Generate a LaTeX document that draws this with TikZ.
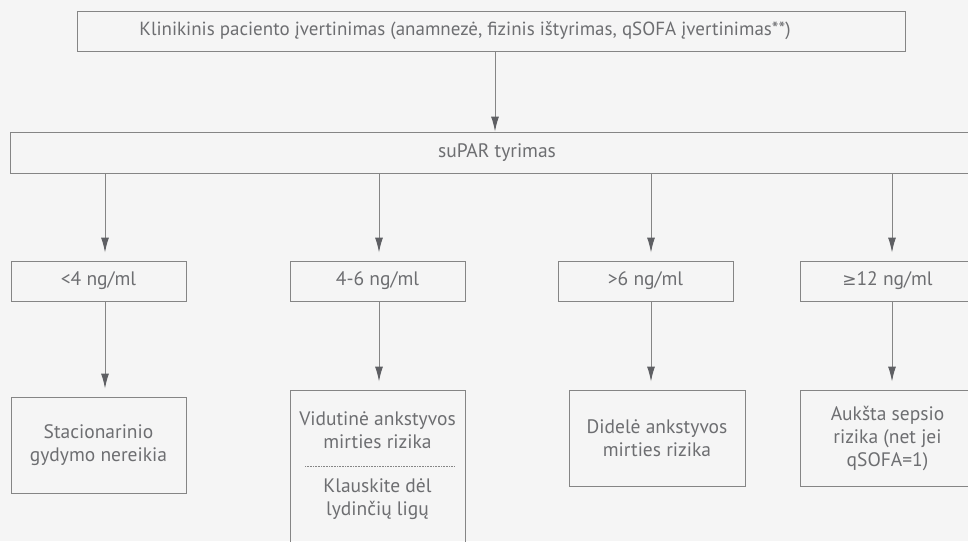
\documentclass[tikz,border=0pt]{standalone}
\usepackage{fontspec}
\setmainfont{PT Sans}
\newfontfamily\symfont{DejaVu Sans}
\usetikzlibrary{arrows.meta}
\definecolor{bg}{HTML}{F5F5F5}
\definecolor{ln}{HTML}{858585}
\definecolor{txt}{HTML}{6D6E71}
\definecolor{tip}{HTML}{5E5F63}
\begin{document}
\begin{tikzpicture}[x=1pt,y=-1pt,
	box/.style={draw=ln,line width=1pt,text=txt,align=center,inner sep=0pt},
	arr/.style={draw=ln,line width=1pt,-{Latex[length=15pt,width=8pt,color=tip]}},
	lbl/.style={font=\fontsize{19.5}{23}\selectfont}]

	\fill[bg] (0,0) rectangle (968,541);
	\useasboundingbox (0,0) rectangle (968,541);
	\clip (0,0) rectangle (968,541);

	\node[box,minimum width=828,minimum height=40] (klin) at (491,31) {};
	\node[text=txt,font=\fontsize{19}{23}\selectfont] (klintxt) at (465,31)
		{Klinikinis paciento įvertinimas (anamnezė, fizinis ištyrimas, qSOFA įvertinimas**)};
	\node[box,lbl,minimum width=974,minimum height=41] (supar) at (497,152.5) {suPAR tyrimas};

	\node[box,lbl,minimum width=175,minimum height=40] (rng1) at (98.5,281) {<4 ng/ml};
	\node[box,lbl,minimum width=175,minimum height=40] (rng2) at (377.5,281) {4-6 ng/ml};
	\node[box,lbl,minimum width=175,minimum height=40] (rng3) at (645.5,281) {>6 ng/ml};
	\node[box,lbl,minimum width=175,minimum height=40] (rng4) at (887.5,281) {{\symfont\fontsize{17}{23}\selectfont ≥}12 ng/ml};

	\node[box,lbl,minimum width=175,minimum height=96] (res1) at (98.5,445) {Stacionarinio\\gydymo nereikia};
	\node[box,minimum width=175,minimum height=220] (res2) at (377.5,500) {};
	\node[text=txt,lbl,align=center] (res2a) at (377.5,430.5) {Vidutinė ankstyvos\\mirties rizika};
	\node[text=txt,lbl,align=center] (res2b) at (377.5,499.5) {Klauskite dėl\\lydinčių ligų};
	\node[box,lbl,minimum width=176,minimum height=96] (res3) at (657,438) {Didelė ankstyvos\\mirties rizika};
	\node[box,lbl,minimum width=175,minimum height=96] (res4) at (887.5,438) {Aukšta sepsio\\rizika (net jei\\qSOFA=1)};

	\draw[ln,densely dotted,line width=0.6pt] (305,466) -- (455,466); %separator

	\coordinate (c0) at (495,0);
	\coordinate (c1) at (105,0);
	\coordinate (c2) at (379,0);
	\coordinate (c3) at (651,0);
	\coordinate (c4) at (892,0);

	\draw[arr] (klin.south -| c0) -- (supar.north -| c0);
	\foreach \i in {1,...,4} {
		\draw[arr,shorten >=8pt] (supar.south -| c\i) -- (rng\i.north -| c\i);
		\draw[arr,shorten >=8pt] (rng\i.south -| c\i) -- (res\i.north -| c\i);
	}

\end{tikzpicture}
\end{document}
